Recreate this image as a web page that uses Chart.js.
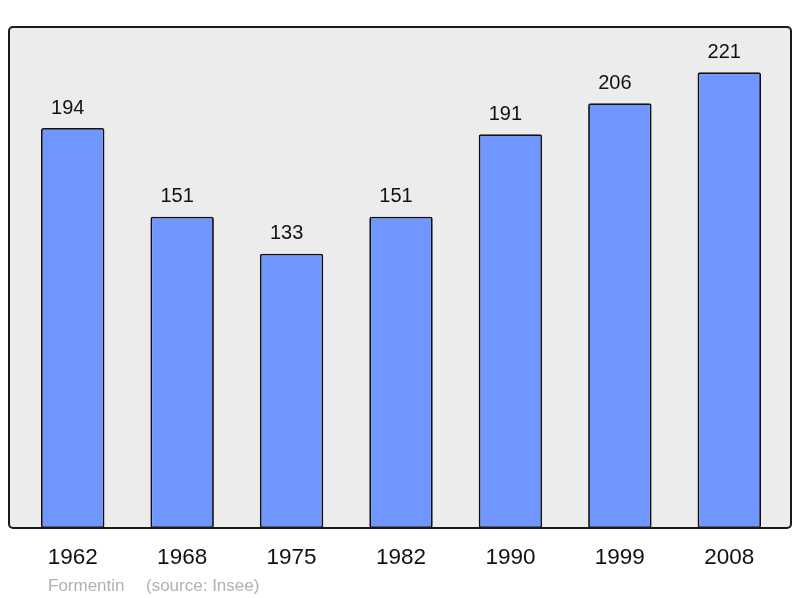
<!DOCTYPE html>
<html>
<head>
<meta charset="utf-8">
<style>
  html, body { margin: 0; padding: 0; background: #fff; }
  canvas { display: block; }
</style>
<script src="https://cdn.jsdelivr.net/npm/chart.js@4/dist/chart.umd.min.js"></script>
</head>
<body>
<canvas id="popChart" width="800" height="598"></canvas>
<script>
// ── Data ─────────────────────────────────────────────────────────
const YEARS  = ['1962', '1968', '1975', '1982', '1990', '1999', '2008'];
const POP    = [194, 151, 133, 151, 191, 206, 221];
const FOOTER = ['Formentin', '(source: Insee)'];

const FONT = '"Liberation Sans", Arial, sans-serif';

// ── Grey panel with frame behind the bars ────────────────────────
const panel = {
  id: 'panel',
  beforeDatasetsDraw(chart) {
    const { ctx, chartArea: a } = chart;
    const x = a.left - 9, y = a.top, w = a.right + 7 - x, h = a.bottom - y;
    ctx.save();
    ctx.beginPath();
    ctx.roundRect(x, y, w, h, 4);
    ctx.fillStyle = '#ececec';
    ctx.fill();
    ctx.restore();
  },
  afterDatasetsDraw(chart) {
    const { ctx, chartArea: a } = chart;
    const x = a.left - 9, y = a.top, w = a.right + 7 - x, h = a.bottom - y;
    ctx.save();
    ctx.beginPath();
    ctx.roundRect(x, y, w, h, 4);
    ctx.lineWidth = 2;
    ctx.strokeStyle = '#1a1a1a';
    ctx.stroke();

    // values above bars
    const meta = chart.getDatasetMeta(0);
    ctx.fillStyle = '#111';
    ctx.font = '20px ' + FONT;
    ctx.textAlign = 'center';
    ctx.textBaseline = 'middle';
    meta.data.forEach((bar, i) => {
      ctx.fillText(String(POP[i]), bar.x - 5, bar.y - 20);
    });

    // footer
    ctx.fillStyle = '#b0b0b0';
    ctx.font = '17px ' + FONT;
    ctx.textAlign = 'left';
    ctx.textBaseline = 'alphabetic';
    ctx.fillText(FOOTER[0], 48, 591);
    ctx.fillText(FOOTER[1], 146, 591);
    ctx.restore();
  }
};

new Chart(document.getElementById('popChart'), {
  type: 'bar',
  data: {
    labels: YEARS,
    datasets: [{
      data: POP,
      backgroundColor: '#7096ff',
      borderColor: '#111',
      borderWidth: 1.8,
      borderSkipped: false,
      borderRadius: 2,
      categoryPercentage: 1,
      barPercentage: 0.58
    }]
  },
  options: {
    responsive: false,
    animation: false,
    layout: { padding: { top: 27, left: 18, right: 16, bottom: 0 } },
    plugins: { legend: { display: false }, tooltip: { enabled: false } },
    scales: {
      x: {
        grid: { display: false, drawTicks: false },
        border: { display: false },
        ticks: { color: '#111', font: { family: FONT, size: 22.5 }, padding: 16 },
        afterFit: s => { s.height = 70; }
      },
      y: {
        display: false,
        min: 0,
        max: 243
      }
    }
  },
  plugins: [panel]
});
</script>
</body>
</html>
